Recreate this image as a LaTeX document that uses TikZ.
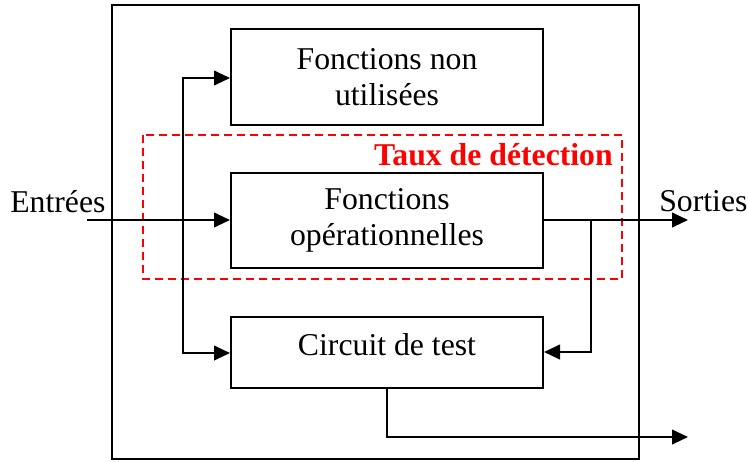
\documentclass[tikz,border=0pt]{standalone}
\usepackage{fontspec}
\setmainfont{Liberation Serif}
\usetikzlibrary{arrows.meta}
\begin{document}
\begin{tikzpicture}[x=0.75pt,y=-0.75pt,
  every node/.style={font=\fontsize{23.8}{27}\selectfont},
  blk/.style={draw=black,line width=1.5pt,inner sep=0pt,align=center},
  wire/.style={draw=black,line width=1.5pt},
  arr/.style={wire,-{Triangle[length=12pt,width=11pt]}},
  lbl/.style={inner sep=0pt}]
\useasboundingbox (0,0) rectangle (748,461);
% outer box
\draw[line width=1.2pt] (112,5) rectangle (639,459);
% dashed red zone
\draw[red,line width=1.5pt,dash pattern=on 6pt off 3.75pt] (143,135) rectangle (622,279);
\node[lbl,red,anchor=base east,font=\fontsize{23.8}{27}\selectfont\bfseries] (taux) at (613,165) {Taux de détection};
% blocks
\node[blk,minimum width=234pt,minimum height=72pt] (fnu) at (387,77) {Fonctions non\\utilisées};
\node[blk,minimum width=234pt,minimum height=71.25pt] (fop) at (387,220.5) {Fonctions\\opérationnelles};
\node[blk,minimum width=234pt,minimum height=53.25pt,text height=16.25pt,text depth=12.5pt] (ct) at (387,352.5) {Circuit de test};
% labels
\node[lbl,anchor=base west] (ent) at (10,212) {Entrées};
\node[lbl,anchor=base west] (sor) at (659,211) {Sorties};
% coordinates
\coordinate (in) at (87,220);
\coordinate (split) at (183,220);
\coordinate (out) at (688,220);
\coordinate (br) at (591,220);
\coordinate (tout) at (688,437);
% input
\draw[arr] (in) -- (fop.west |- in);
\draw[arr] (split) |- (fnu.west |- 0,78);
\draw[arr] (split) |- (ct.west |- 0,353);
% output
\draw[arr] (fop.east |- out) -- (out);
\draw[arr] (br) |- (ct.east |- 0,352);
% test output
\draw[arr] (ct.south -| 387,0) |- (tout);
\end{tikzpicture}
\end{document}
